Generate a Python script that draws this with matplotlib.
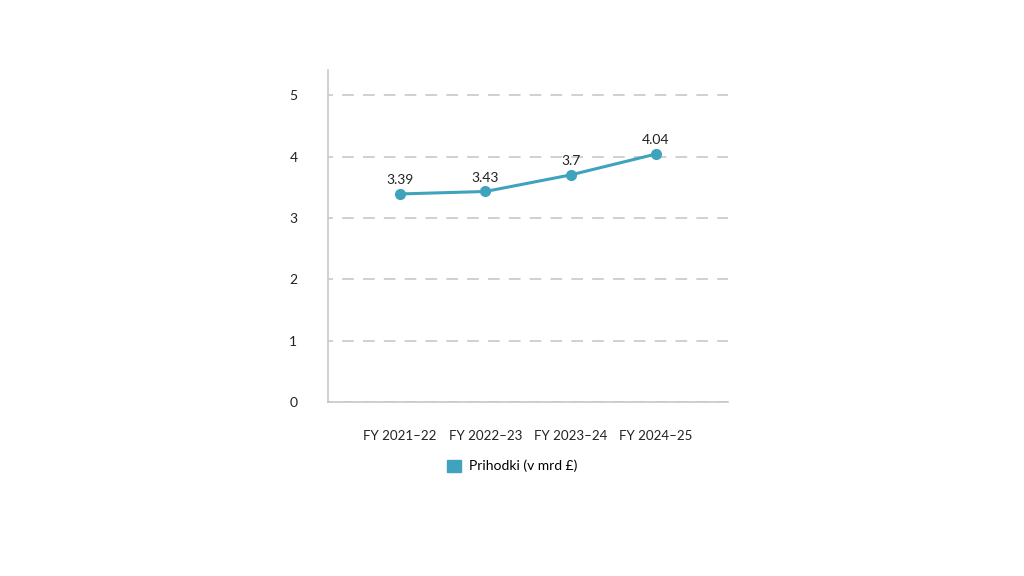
import matplotlib
matplotlib.use('Agg')
from matplotlib import pyplot as plt
from matplotlib.patches import Patch

years = ['FY 2021–22', 'FY 2022–23', 'FY 2023–24', 'FY 2024–25']
revenue = [3.39, 3.43, 3.7, 4.04]
labels = ['3.39', '3.43', '3.7', '4.04']

plt.rcParams['font.family'] = ['Lato', 'DejaVu Sans']
color = '#3fa3bd'

fig = plt.figure(figsize=(10.24, 5.76), dpi=100)
ax = fig.add_axes([0.3203, 0.3021, 0.3906, 0.5764])

x = list(range(len(years)))
ax.plot(x, revenue, color=color, linewidth=2.2, marker='o', markersize=7, zorder=3)
for xi, yi, lab in zip(x, revenue, labels):
    ax.annotate(lab, (xi, yi), xytext=(0, 5.5), textcoords='offset points',
                ha='center', va='bottom', fontsize=10, color='#222222')

ax.set_xlim(-0.844, 3.844)
ax.set_ylim(0, 5.41)
ax.set_yticks([0, 1, 2, 3, 4, 5])
ax.set_xticks(x)
ax.set_xticklabels(years)
ax.tick_params(axis='both', length=0, labelsize=10, colors='#222222')
ax.tick_params(axis='x', labelsize=9.6)
ax.tick_params(axis='y', pad=22)
ax.tick_params(axis='x', pad=20)
ax.yaxis.grid(True, color='#c8c8c8', linestyle=(4, (7, 5.5)), linewidth=1.2)
ax.set_axisbelow(True)
for s in ['top', 'right']:
    ax.spines[s].set_visible(False)
for s in ['left', 'bottom']:
    ax.spines[s].set_color('#c8c8c8')
    ax.spines[s].set_linewidth(1.2)

handle = Patch(facecolor=color, edgecolor=color, label='Prihodki (v mrd £)')
fig.legend(handles=[handle], loc='center', bbox_to_anchor=(0.5, 1 - 466 / 576),
           frameon=False, fontsize=10, handlelength=1.0, handleheight=1.0,
           handletextpad=0.6)

fig.savefig('out.png', dpi=100)
